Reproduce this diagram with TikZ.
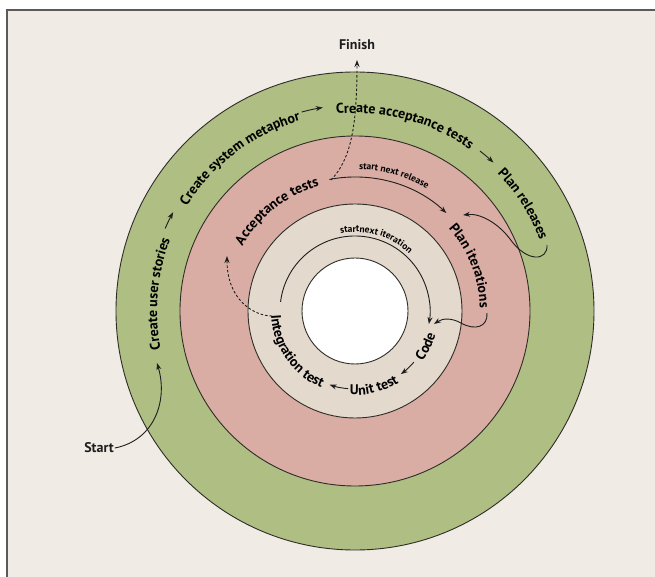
\documentclass[tikz,border=0pt]{standalone}
\usepackage{fontspec}
\setmainfont{PT Sans}
\usetikzlibrary{decorations.text,arrows.meta}
\definecolor{bgc}{RGB}{240,235,228}
\definecolor{greenc}{RGB}{175,190,130}
\definecolor{pinkc}{RGB}{217,172,164}
\definecolor{beigec}{RGB}{227,217,205}
\definecolor{ringline}{RGB}{45,45,40}
\definecolor{inkc}{RGB}{30,30,30}
\definecolor{framec}{RGB}{90,90,90}
\newcommand\lblfont{\bfseries\fontsize{14}{16}\selectfont}
\newcommand\smlfont{\bfseries\fontsize{9.5}{11}\selectfont}
\begin{document}
\begin{tikzpicture}[x=1pt,y=1pt,
  ring/.style={draw=ringline, line width=0.9pt},
  conn/.style={draw=inkc, line width=0.9pt, -{Stealth[length=7pt,width=5pt]}},
  dconn/.style={conn, dash pattern=on 2.5pt off 2pt},
  lbl/.style={font=\lblfont, text=inkc, inner sep=1pt},
  outtext/.style={decorate, decoration={text along path, text align=center, text={|\lblfont|#1}}},
  smtext/.style={decorate, decoration={text along path, text align=center, text={|\smlfont|#1}}}]
\useasboundingbox (-355,-266) rectangle (300,311);
\fill[white] (-355,-266) rectangle (300,311);
\fill[bgc] (-348,-270) rectangle (305,301);
\draw[framec, line width=1.5pt] (-348,-270) -- (-348,301) -- (305,301);
% rings
\filldraw[ring, fill=greenc] (0,0) circle[radius=239];
\filldraw[ring, fill=pinkc] (0,0) circle[radius=175];
\filldraw[ring, fill=beigec] (0,0) circle[radius=107];
\filldraw[ring, fill=white] (0,0) circle[radius=53];
% outer ring texts
\path[outtext={Create user stories}] (210:198) arc[start angle=210,end angle=140,radius=198];
\path[outtext={Create system metaphor}] (167:198) arc[start angle=167,end angle=87,radius=198];
\path[outtext={Create acceptance tests}] (115:198) arc[start angle=115,end angle=35,radius=198];
\path[outtext={Plan releases}] (62.5:198) arc[start angle=62.5,end angle=2.5,radius=198];
\coordinate (oa1) at (156.5:207);
\draw[conn] (oa1) arc[start angle=156.5,end angle=151.5,radius=207];
\coordinate (oa2) at (105:206);
\draw[conn] (oa2) arc[start angle=105,end angle=99,radius=206];
\coordinate (oa3) at (52:203);
\draw[conn] (oa3) arc[start angle=52,end angle=47,radius=203];
% pink ring texts
\path[outtext={Acceptance tests}] (163:130) arc[start angle=163,end angle=93,radius=130];
\path[outtext={Plan iterations}] (56.5:125) arc[start angle=56.5,end angle=-13.5,radius=125];
\path[smtext={start next release}] (114:142) arc[start angle=114,end angle=34,radius=142];
\coordinate (rel) at (101:134);
\draw[conn] (rel) arc[start angle=101,end angle=47,radius=134];
% beige ring texts
\path[smtext={startnext iteration}] (118.5:79) arc[start angle=118.5,end angle=28.5,radius=79];
\coordinate (itr) at (173:75);
\draw[conn] (itr) arc[start angle=173,end angle=-10,radius=75];
\path[outtext={Code}] (-56.5:84) arc[start angle=-56.5,end angle=3.5,radius=84];
\path[outtext={Unit test}] (254:84) arc[start angle=254,end angle=314,radius=84];
\path[outtext={Integration test}] (164.5:84) arc[start angle=164.5,end angle=264.5,radius=84];
\coordinate (ia1) at (319:78);
\draw[conn] (ia1) arc[start angle=319,end angle=306,radius=78];
\coordinate (ia2) at (265:78);
\draw[conn] (ia2) arc[start angle=265,end angle=251,radius=78];
% start / finish
\node[lbl] (start) at (-256,-137) {Start};
\node[lbl] (finish) at (2,266) {Finish};
\coordinate (stories) at (-198,-52);
\draw[conn] (start.east) .. controls (-200,-129) and (-187,-89) .. (stories);
\coordinate (accend) at (-24,131);
\coordinate (finbot) at (2,251);
\draw[dconn] (accend) .. controls (-5,151) and (2,181) .. (finbot);
% plan releases -> plan iterations
\coordinate (prend) at (192,66);
\coordinate (prmid) at (155,72);
\coordinate (pitop) at (108,96);
\draw[conn] (prend) .. controls (193,50) and (172,48) .. (prmid) .. controls (143,88) and (125,98) .. (pitop);
% plan iterations -> code
\coordinate (piend) at (132,-2);
\coordinate (pimid) at (106,-12);
\coordinate (codetop) at (79,-13);
\draw[conn] (piend) .. controls (133,-16) and (120,-20) .. (pimid) .. controls (97,-7) and (88,-7) .. (codetop);
% integration -> acceptance (dashed)
\coordinate (intstart) at (-83,-5);
\coordinate (acctip) at (-128,55);
\draw[dconn] (intstart) .. controls (-100,-5) and (-128,10) .. (acctip);
\end{tikzpicture}
\end{document}
